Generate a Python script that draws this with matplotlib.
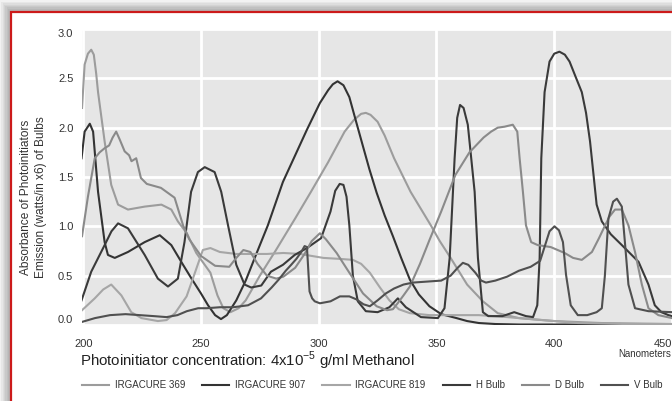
import matplotlib
matplotlib.use('Agg')
import matplotlib.pyplot as plt
from matplotlib.patches import Rectangle
from matplotlib.lines import Line2D

plt.rcParams['font.family'] = ['Liberation Sans Narrow', 'Liberation Sans', 'DejaVu Sans']

# ---- data ----
nm_369 = [199.5, 199.9, 200.6, 202, 203.4, 204.5, 205.5, 206.3, 209.1, 211.9, 214.8, 219, 226.1, 233.2,
          237.4, 240.2, 244, 248, 254, 257, 259.5, 262.5, 266, 269, 275, 281.6, 290, 296.7, 304, 311,
          315, 318, 320, 322, 325, 328, 332, 339, 347.6, 351.4, 356, 363, 369.7, 376, 385, 400, 420, 450]
abs_369 = [2.2, 2.36, 2.64, 2.75, 2.79, 2.74, 2.55, 2.36, 1.86, 1.42, 1.22, 1.17, 1.2, 1.22,
           1.17, 1.05, 0.93, 0.73, 0.53, 0.3, 0.17, 0.13, 0.17, 0.25, 0.5, 0.75, 1.08, 1.35, 1.65, 1.96,
           2.08, 2.14, 2.15, 2.13, 2.06, 1.92, 1.69, 1.35, 1.01, 0.85, 0.68, 0.41, 0.24, 0.12, 0.07, 0.04, 0.02, 0.01]

nm_907 = [199.3, 200.6, 202.8, 204.2, 206.3, 209.1, 210.5, 213.4, 219, 226.1, 232.5, 237.4, 242.4, 246,
          250, 253, 256, 258.5, 261, 265, 269, 274, 278.4, 284.8, 290, 295, 300.5, 304, 306, 308, 310.5,
          313, 316, 318.8, 321.5, 324.6, 328, 331.5, 335, 338.7, 342.5, 347, 352, 358.5, 363, 368, 375,
          385, 400, 420, 450]
abs_907 = [1.69, 1.96, 2.04, 1.96, 1.35, 0.84, 0.71, 0.68, 0.74, 0.84, 0.91, 0.81, 0.61, 0.47,
           0.32, 0.2, 0.1, 0.06, 0.1, 0.25, 0.45, 0.75, 1.01, 1.45, 1.72, 1.98, 2.25, 2.38, 2.44, 2.47, 2.43,
           2.31, 2.05, 1.81, 1.58, 1.34, 1.11, 0.9, 0.68, 0.46, 0.31, 0.19, 0.11, 0.07, 0.04, 0.02, 0.01,
           0.005, 0.005, 0.005, 0.005]

nm_819 = [199.5, 204.9, 208.5, 211.9, 216.2, 220.4, 224.7, 231.7, 235.4, 239, 243.9, 247, 250.8, 254,
          258, 265, 270, 278, 285, 292, 302, 309, 314.5, 318, 321.7, 326, 330, 334, 338.7, 347, 358, 368,
          380, 395, 410, 430, 450]
abs_819 = [0.15, 0.27, 0.36, 0.41, 0.3, 0.13, 0.07, 0.04, 0.05, 0.12, 0.29, 0.5, 0.76, 0.78,
           0.74, 0.72, 0.72, 0.72, 0.73, 0.72, 0.68, 0.67, 0.66, 0.62, 0.53, 0.38, 0.25, 0.16, 0.12, 0.1, 0.1, 0.1,
           0.08, 0.05, 0.02, 0.01, 0.01]

nm_h = [199.3, 203.4, 209.1, 212, 214.8, 219, 226.1, 231.7, 236, 240.2, 243, 245.8, 248.7, 251.6,
        255.8, 258.6, 261.5, 265, 268.5, 271.3, 275.6, 279.7, 284.8, 289.8, 295, 301, 305, 307, 308.9,
        310.5, 311.8, 313, 314.5, 316.6, 320, 325, 330, 333.6, 337, 343.4, 350.6, 353.4, 355.6, 357.7,
        358.8, 360, 361.5, 363.3, 366.2, 367.6, 369.7, 372, 378, 383, 388, 391, 392.8, 393.8, 394.5,
        395.9, 398, 400, 402.2, 404.5, 406.5, 409, 411.7, 413.5, 415.2, 418, 420.2, 424, 428.7, 435.8,
        440, 442.7, 445.5, 448.5, 450]
em_h = [0.25, 0.54, 0.81, 0.95, 1.03, 0.98, 0.71, 0.47, 0.39, 0.47, 0.84, 1.35, 1.55, 1.6,
        1.55, 1.35, 1.01, 0.61, 0.41, 0.38, 0.4, 0.54, 0.61, 0.71, 0.78, 0.88, 1.15, 1.36, 1.43,
        1.42, 1.3, 1.01, 0.5, 0.24, 0.14, 0.13, 0.18, 0.27, 0.18, 0.08, 0.07, 0.17, 0.68, 1.69,
        2.1, 2.23, 2.2, 2.03, 1.35, 0.68, 0.13, 0.09, 0.09, 0.13, 0.09, 0.08, 0.2, 0.68, 1.69,
        2.36, 2.67, 2.75, 2.77, 2.74, 2.67, 2.52, 2.36, 2.15, 1.86, 1.22, 1.05, 0.92, 0.81, 0.64,
        0.41, 0.2, 0.13, 0.1, 0.09]

nm_d = [199.5, 202, 204.9, 207, 209, 211, 212.5, 214, 215.5, 217.6, 219.5, 220.5, 222.5, 224.5, 227,
        233, 238.8, 242.4, 245, 250, 256, 262, 265, 268, 271, 274, 278, 282, 285, 290, 294, 297, 300.5,
        303, 307.6, 313, 318.8, 324.6, 329, 331.5, 333.5, 336, 338.7, 343, 347, 352, 358, 364, 370,
        373.2, 376, 378.9, 382.4, 384.3, 385.3, 386.7, 388, 390.2, 393, 398.5, 404.4, 408, 411.7, 416,
        419, 421.6, 423.5, 425.8, 428.7, 431.5, 434.3, 437.2, 440, 444.2, 450]
em_d = [0.9, 1.3, 1.69, 1.75, 1.79, 1.82, 1.9, 1.96, 1.88, 1.76, 1.72, 1.66, 1.69, 1.49, 1.43,
        1.39, 1.29, 1.01, 0.87, 0.7, 0.6, 0.59, 0.68, 0.76, 0.74, 0.62, 0.5, 0.47, 0.49, 0.58, 0.72, 0.85, 0.93,
        0.87, 0.73, 0.53, 0.32, 0.19, 0.15, 0.16, 0.22, 0.3, 0.39, 0.62, 0.86, 1.15, 1.52, 1.75, 1.9,
        1.96, 2.0, 2.01, 2.03, 1.96, 1.69, 1.35, 1.01, 0.84, 0.81, 0.79, 0.73, 0.68, 0.66, 0.74,
        0.88, 1.01, 1.1, 1.17, 1.17, 1.01, 0.74, 0.41, 0.17, 0.1, 0.07]

nm_v = [199.3, 205, 211.4, 218, 224, 230, 235.4, 240, 244, 248.8, 252.4, 258, 263.7, 270, 275.5, 280,
        283, 286, 288.3, 290.5, 292.6, 294, 295, 296.1, 297.2, 298.3, 300.5, 305, 309, 313, 316, 319,
        321.7, 325, 328.5, 332, 336, 340, 346, 352, 356, 359, 361.2, 363.5, 366.5, 369, 371, 375, 380,
        385, 390, 394, 396, 398, 400.1, 402, 403.7, 405, 407, 410, 414, 418, 420.2, 421.5, 423, 425,
        426.6, 428.7, 430, 431.5, 434.3, 440, 450]
em_v = [0.03, 0.07, 0.1, 0.11, 0.1, 0.09, 0.08, 0.1, 0.14, 0.17, 0.17, 0.18, 0.18, 0.2, 0.27, 0.38,
        0.46, 0.55, 0.61, 0.67, 0.74, 0.8, 0.79, 0.34, 0.27, 0.24, 0.22, 0.24, 0.29, 0.29, 0.26, 0.21,
        0.19, 0.25, 0.32, 0.37, 0.41, 0.43, 0.44, 0.45, 0.5, 0.58, 0.63, 0.61, 0.53, 0.45, 0.43, 0.45, 0.49,
        0.55, 0.59, 0.65, 0.8, 0.95, 1.0, 0.96, 0.84, 0.51, 0.2, 0.1, 0.1, 0.13, 0.17, 0.5, 1.08, 1.25,
        1.28, 1.2, 0.84, 0.41, 0.17, 0.14, 0.13]

labels = ['IRGACURE 369', 'IRGACURE 907', 'IRGACURE 819', 'H Bulb', 'D Bulb', 'V Bulb']
colors = ['#9c9c9c', '#333333', '#a6a6a6', '#3a3a3a', '#8a8a8a', '#505050']
series = [(nm_369, abs_369), (nm_907, abs_907), (nm_819, abs_819),
          (nm_h, em_h), (nm_d, em_d), (nm_v, em_v)]

x_ticks = [200, 250, 300, 350, 400, 450]
y_ticks = [0.0, 0.5, 1.0, 1.5, 2.0, 2.5, 3.0]

W, H = 672, 401
fig = plt.figure(figsize=(6.72, 4.01), dpi=100)
fig.patch.set_facecolor('#f2f2f2')

# shadow + frame
def px(x0, y0, w, h):
    return (x0 / W, 1 - (y0 + h) / H), w / W, h / H

for k in range(8):
    xy, w, h = px(11 - k * 1.4, 12 - k * 1.5, W, H)
    fig.add_artist(Rectangle(xy, w, h, transform=fig.transFigure, facecolor='black',
                             alpha=0.045, edgecolor='none', zorder=-5))
xy, w, h = px(11, 12, W, H)
fig.add_artist(Rectangle(xy, w, h, transform=fig.transFigure, facecolor='white',
                         edgecolor='#cc1a1a', linewidth=1.6, zorder=-2))

ax = fig.add_axes([81.7 / W, 1 - 325 / H, (W - 81.7) / W, (325 - 29) / H])
ax.set_facecolor('#e6e6e6')
for s in ax.spines.values():
    s.set_visible(False)

for (xs, ys), c, lab in zip(series, colors, labels):
    ax.plot(xs, ys, color=c, lw=1.5, label=lab, solid_joinstyle='round')

ax.set_xlim(199.36, 449.9)
ax.set_ylim(0, 3.0)
ax.set_xticks(x_ticks)
ax.set_yticks(y_ticks)
ax.set_yticklabels(['%.1f' % v for v in y_ticks])
ax.grid(True, color='white', lw=2.0)
ax.set_axisbelow(True)
ax.tick_params(length=0, labelsize=8, labelcolor='#333333')
ax.tick_params(axis='x', pad=10)
ax.tick_params(axis='y', pad=6)
ax.yaxis.get_major_ticks()[-1].label1.set_va('top')
ax.yaxis.get_major_ticks()[0].label1.set_va('bottom')
ax.xaxis.get_major_ticks()[-1].label1.set_ha('right')

fig.text(80 / W, 1 - 361 / H, 'Photoinitiator concentration: 4x10$^{\\mathregular{-5}}$ g/ml Methanol',
         ha='left', va='center', fontsize=10.8, color='#222222')
fig.text(671 / W, 1 - 354 / H, 'Nanometers', ha='right', va='center', fontsize=7, color='#333333')
fig.text(26 / W, 1 - 197 / H, 'Absorbance of Photoinitiators', rotation=90,
         ha='center', va='center', fontsize=8.6, color='#333333')
fig.text(41 / W, 1 - 197 / H, 'Emission (watts/in x6) of Bulbs', rotation=90,
         ha='center', va='center', fontsize=8.6, color='#333333')

handles = [Line2D([], [], color=c, lw=1.5) for c in colors]
fig.legend(handles, labels, ncol=6, loc='center', bbox_to_anchor=(372 / W, 1 - 385 / H),
           frameon=False, fontsize=7, handlelength=2.8, handletextpad=0.6,
           columnspacing=1.75, labelcolor='#333333')

plt.savefig('out.png', dpi=100)
